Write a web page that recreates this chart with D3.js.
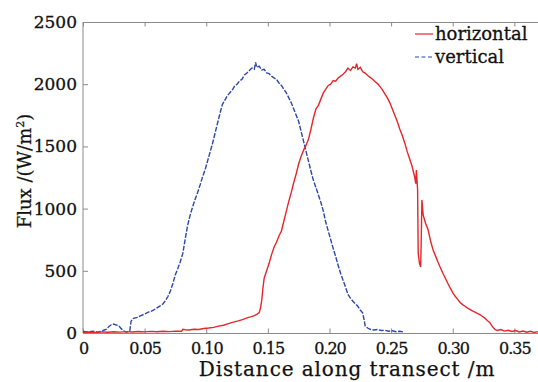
<!DOCTYPE html>
<html>
<head>
<meta charset="utf-8">
<script src="https://cdn.jsdelivr.net/npm/d3@7"></script>
<style>
  html, body { margin: 0; padding: 0; background: #fff; }
  svg { display: block; }
</style>
</head>
<body>
<div id="chart"></div>
<script>
// x ticks (m) and their labels
const xTicks = [0, 0.05, 0.10, 0.15, 0.20, 0.25, 0.30, 0.35];
const xTickLabels = ['0', '0.05', '0.10', '0.15', '0.20', '0.25', '0.30', '0.35'];
const yTicks = [0, 500, 1000, 1500, 2000, 2500];
const yTickLabels = ['0', '500', '1000', '1500', '2000', '2500'];

const seriesNames = ['horizontal', 'vertical'];

// vertical (blue, dashed): distance, flux
const verticalX = [0, 0.004, 0.008, 0.012, 0.016, 0.019, 0.021, 0.023, 0.025, 0.027, 0.029, 0.031, 0.033, 0.035, 0.037, 0.038, 0.039, 0.041, 0.044, 0.047, 0.050, 0.053, 0.056, 0.059, 0.062, 0.065, 0.067, 0.069, 0.071, 0.073, 0.075, 0.077, 0.079, 0.081, 0.083, 0.085, 0.087, 0.089, 0.091, 0.093, 0.095, 0.097, 0.099, 0.101, 0.103, 0.105, 0.107, 0.109, 0.111, 0.113, 0.115, 0.117, 0.119, 0.121, 0.123, 0.125, 0.127, 0.129, 0.131, 0.133, 0.135, 0.137, 0.139, 0.140, 0.141, 0.143, 0.145, 0.147, 0.149, 0.151, 0.153, 0.155, 0.157, 0.159, 0.161, 0.163, 0.165, 0.167, 0.169, 0.171, 0.173, 0.175, 0.177, 0.179, 0.181, 0.183, 0.185, 0.187, 0.189, 0.191, 0.193, 0.195, 0.197, 0.199, 0.201, 0.203, 0.205, 0.207, 0.209, 0.211, 0.213, 0.215, 0.217, 0.219, 0.221, 0.223, 0.225, 0.227, 0.228, 0.229, 0.231, 0.233, 0.236, 0.239, 0.242, 0.245, 0.248, 0.251, 0.254, 0.257, 0.260];
const verticalY = [12, 8, 15, 6, 18, 30, 52, 66, 72, 64, 58, 35, 18, 8, 12, 20, 95, 118, 126, 140, 152, 168, 178, 195, 214, 235, 262, 295, 340, 400, 470, 520, 575, 640, 760, 870, 950, 1015, 1075, 1130, 1190, 1255, 1310, 1380, 1450, 1520, 1600, 1680, 1760, 1835, 1870, 1905, 1930, 1950, 1985, 2000, 2025, 2040, 2075, 2090, 2110, 2130, 2120, 2175, 2135, 2145, 2115, 2120, 2090, 2085, 2065, 2050, 2040, 2010, 1990, 1960, 1930, 1890, 1850, 1800, 1750, 1700, 1620, 1540, 1460, 1380, 1300, 1225, 1170, 1110, 1050, 980, 890, 820, 750, 680, 615, 545, 480, 425, 370, 310, 280, 255, 235, 215, 185, 160, 110, 55, 40, 30, 24, 28, 20, 22, 14, 18, 10, 14, 8];

// horizontal (red, solid): distance, flux
const horizontalX = [0, 0.005, 0.010, 0.015, 0.020, 0.025, 0.030, 0.035, 0.040, 0.045, 0.050, 0.055, 0.060, 0.065, 0.070, 0.075, 0.080, 0.081, 0.083, 0.086, 0.090, 0.094, 0.098, 0.102, 0.106, 0.110, 0.114, 0.118, 0.122, 0.126, 0.130, 0.133, 0.136, 0.139, 0.141, 0.143, 0.144, 0.145, 0.146, 0.147, 0.149, 0.151, 0.153, 0.155, 0.157, 0.159, 0.161, 0.163, 0.165, 0.167, 0.169, 0.171, 0.173, 0.175, 0.177, 0.179, 0.181, 0.183, 0.185, 0.187, 0.189, 0.191, 0.193, 0.195, 0.197, 0.199, 0.201, 0.203, 0.205, 0.207, 0.209, 0.211, 0.213, 0.215, 0.217, 0.219, 0.221, 0.222, 0.223, 0.225, 0.227, 0.229, 0.231, 0.233, 0.235, 0.237, 0.239, 0.241, 0.243, 0.245, 0.247, 0.249, 0.251, 0.253, 0.255, 0.257, 0.259, 0.261, 0.263, 0.265, 0.267, 0.269, 0.270, 0.2705, 0.2715, 0.272, 0.273, 0.274, 0.2745, 0.275, 0.276, 0.278, 0.280, 0.282, 0.284, 0.286, 0.288, 0.290, 0.292, 0.294, 0.296, 0.298, 0.300, 0.302, 0.304, 0.306, 0.308, 0.310, 0.312, 0.314, 0.316, 0.318, 0.320, 0.322, 0.324, 0.326, 0.328, 0.330, 0.332, 0.334, 0.336, 0.339, 0.342, 0.345, 0.348, 0.351, 0.354, 0.357, 0.360, 0.363, 0.366, 0.369];
const horizontalY = [5, 8, 4, 9, 6, 10, 7, 11, 8, 12, 9, 13, 10, 14, 11, 15, 14, 30, 26, 24, 30, 28, 36, 40, 45, 55, 62, 75, 88, 98, 110, 122, 130, 140, 150, 165, 200, 260, 360, 440, 500, 560, 630, 690, 730, 780, 820, 900, 980, 1060, 1130, 1210, 1280, 1360, 1420, 1470, 1510, 1560, 1640, 1730, 1800, 1830, 1880, 1930, 1960, 1990, 2000, 2030, 2025, 2050, 2065, 2080, 2100, 2130, 2110, 2140, 2130, 2165, 2120, 2135, 2100, 2090, 2070, 2055, 2040, 2020, 2005, 1980, 1955, 1920, 1890, 1850, 1800, 1750, 1700, 1640, 1590, 1530, 1460, 1400, 1340, 1260, 1200, 1310, 1150, 640, 560, 530, 780, 1070, 950, 880, 830, 740, 670, 620, 570, 525, 480, 440, 400, 360, 325, 295, 270, 245, 228, 215, 200, 190, 178, 168, 158, 148, 135, 120, 100, 85, 55, 30, 20, 28, 15, 22, 12, 20, 8, 16, 6, 14, 5, 10];

const W = 538, H = 382;
const margin = { top: 22, right: 0, bottom: 49, left: 83 };
const red = '#e3272b', blue = '#2c47a8', axisColor = '#8a8a8a';

const svg = d3.select('#chart').append('svg')
  .attr('width', W).attr('height', H);

const x = d3.scaleLinear().domain([0, 0.37]).range([margin.left, W + 1]);
const y = d3.scaleLinear().domain([0, 2500]).range([H - margin.bottom, margin.top]);

// box lines (left, bottom, top)
svg.append('line').attr('x1', x(0)).attr('x2', x(0)).attr('y1', y(0)).attr('y2', y(2500))
  .attr('stroke', axisColor);
svg.append('line').attr('x1', x(0)).attr('x2', W).attr('y1', y(0) + 0.5).attr('y2', y(0) + 0.5)
  .attr('stroke', axisColor);
svg.append('line').attr('x1', x(0)).attr('x2', W).attr('y1', y(2500) + 0.5).attr('y2', y(2500) + 0.5)
  .attr('stroke', axisColor);

const serif = '"DejaVu Serif", serif';
const ink = '#111';

// heavier text, closer to the printed look
function heavy(sel, w = 0.3) {
  return sel.attr('fill', ink).attr('stroke', ink).attr('stroke-width', w);
}

// bottom axis: inward ticks
const xAxis = svg.append('g').attr('transform', `translate(0,${y(0) + 0.5})`)
  .call(d3.axisBottom(x).tickValues(xTicks).tickSize(-5).tickPadding(9)
    .tickFormat((d, i) => xTickLabels[i]));
xAxis.select('.domain').remove();
xAxis.selectAll('.tick line').attr('stroke', axisColor);
xAxis.selectAll('.tick text').call(heavy)
  .style('font-family', serif).style('font-size', '16px').style('letter-spacing', '-1px');

// top ticks
svg.append('g').attr('transform', `translate(0,${y(2500) + 0.5})`)
  .call(d3.axisTop(x).tickValues(xTicks).tickSize(-4).tickFormat(''))
  .call(g => g.select('.domain').remove())
  .selectAll('.tick line').attr('stroke', axisColor);

// left axis
const yAxis = svg.append('g').attr('transform', `translate(${x(0)},0)`)
  .call(d3.axisLeft(y).tickValues(yTicks).tickSize(-5).tickPadding(6)
    .tickFormat((d, i) => yTickLabels[i]));
yAxis.select('.domain').remove();
yAxis.selectAll('.tick line').attr('stroke', axisColor);
yAxis.selectAll('.tick text').call(heavy)
  .style('font-family', serif).style('font-size', '17px');

// curves
svg.append('clipPath').attr('id', 'plot')
  .append('rect').attr('x', x(0)).attr('y', y(2500)).attr('width', W - x(0)).attr('height', y(0) - y(2500));

const line = d3.line().x(d => x(d[0])).y(d => y(d[1]));

const horizontal = horizontalX.map((v, i) => [v, horizontalY[i]]);
const vertical = verticalX.map((v, i) => [v, verticalY[i]]);

svg.append('path').datum(vertical)
  .attr('clip-path', 'url(#plot)')
  .attr('fill', 'none').attr('stroke', blue).attr('stroke-width', 1.4)
  .attr('stroke-dasharray', '5,1.5')
  .attr('d', line);

svg.append('path').datum(horizontal)
  .attr('clip-path', 'url(#plot)')
  .attr('fill', 'none').attr('stroke', red).attr('stroke-width', 1.4)
  .attr('d', line);

// legend
const legend = svg.append('g').attr('transform', 'translate(415,34)');
seriesNames.forEach((name, i) => {
  const g = legend.append('g').attr('transform', `translate(0,${i * 23})`);
  g.append('line').attr('x1', 0).attr('x2', 18).attr('y1', 0).attr('y2', 0)
    .attr('stroke', i === 0 ? red : blue).attr('stroke-width', 1.2)
    .attr('stroke-dasharray', i === 0 ? null : '4,2.5');
  g.append('text').attr('x', 20).attr('y', 6)
    .style('font-family', serif).style('font-size', '18px')
    .call(heavy)
    .text(name);
});

// axis titles
svg.append('text')
  .attr('x', 347).attr('y', 376)
  .attr('text-anchor', 'middle')
  .style('font-family', serif).style('font-size', '20px').style('letter-spacing', '0.9px')
  .call(heavy, 0.25)
  .text('Distance along transect /m');

const yTitle = svg.append('text')
  .attr('transform', 'translate(31,171) rotate(-90)')
  .attr('text-anchor', 'middle')
  .style('font-family', serif).style('font-size', '18px')
  .call(heavy, 0.25);
yTitle.append('tspan').text('Flux /(W/m');
yTitle.append('tspan').attr('dy', -7).style('font-size', '11px').text('2');
yTitle.append('tspan').attr('dy', 7).text(')');
</script>
</body>
</html>
